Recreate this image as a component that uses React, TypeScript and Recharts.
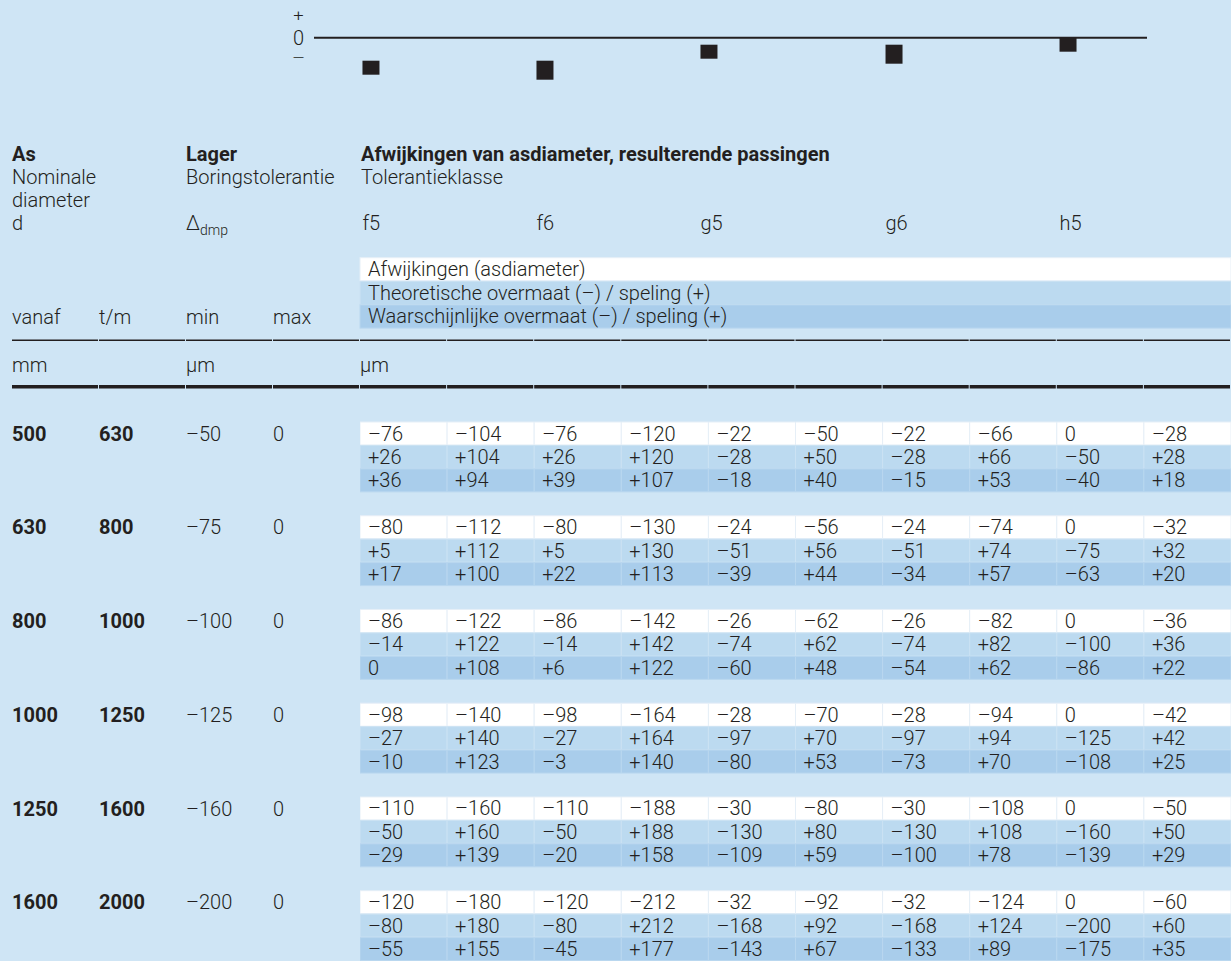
import React from "react";
import { BarChart, Bar, XAxis, YAxis, ReferenceLine, LabelList, Cell } from "recharts";

const BG = "#cfe5f5";
const ROW_FILL = ["#ffffff", "#bcdaf0", "#a9cdeb"];
const ROW_STROKE = ["#e6eff7", "#cbe2f3", "#b9d7ef"];
const INK = "#231f20";
const FONT = "Roboto, 'Noto Sans', 'DejaVu Sans', sans-serif";

// ---- schematic tolerance zones (top) ----
const classes = ["f5", "f6", "g5", "g6", "h5"];
const classPos = [0.125, 2.125, 4.01, 6.137, 8.137]; // position in table column units
const zoneTop = [-23, -23, -7, -7, 0];
const zoneBottom = [-37, -42, -21, -26, -14];
const signTicks = [22, 0, -20.5];
const signLabels = ["+", "0", "–"];

// ---- table ----
const fromD = [500, 630, 800, 1000, 1250, 1600];
const toD = [630, 800, 1000, 1250, 1600, 2000];
const dmpMin = [-50, -75, -100, -125, -160, -200];
const dmpMax = [0, 0, 0, 0, 0, 0];

const deviations = [
  [-76, -104, -76, -120, -22, -50, -22, -66, 0, -28],
  [-80, -112, -80, -130, -24, -56, -24, -74, 0, -32],
  [-86, -122, -86, -142, -26, -62, -26, -82, 0, -36],
  [-98, -140, -98, -164, -28, -70, -28, -94, 0, -42],
  [-110, -160, -110, -188, -30, -80, -30, -108, 0, -50],
  [-120, -180, -120, -212, -32, -92, -32, -124, 0, -60],
];
const theoretical = [
  [26, 104, 26, 120, -28, 50, -28, 66, -50, 28],
  [5, 112, 5, 130, -51, 56, -51, 74, -75, 32],
  [-14, 122, -14, 142, -74, 62, -74, 82, -100, 36],
  [-27, 140, -27, 164, -97, 70, -97, 94, -125, 42],
  [-50, 160, -50, 188, -130, 80, -130, 108, -160, 50],
  [-80, 180, -80, 212, -168, 92, -168, 124, -200, 60],
];
const probable = [
  [36, 94, 39, 107, -18, 40, -15, 53, -40, 18],
  [17, 100, 22, 113, -39, 44, -34, 57, -63, 20],
  [0, 108, 6, 122, -60, 48, -54, 62, -86, 22],
  [-10, 123, -3, 140, -80, 53, -73, 70, -108, 25],
  [-29, 139, -20, 158, -109, 59, -100, 78, -139, 29],
  [-55, 155, -45, 177, -143, 67, -133, 89, -175, 35],
];

const legendLabels = [
  "Afwijkingen (asdiameter)",
  "Theoretische overmaat (–) / speling (+)",
  "Waarschijnlijke overmaat (–) / speling (+)",
];

const fmt = (v: number) => (v < 0 ? "–" + Math.abs(v) : v > 0 ? "+" + v : "0");

const topData = classes.map((c, i) => ({ cls: c, pos: classPos[i], zone: [zoneBottom[i], zoneTop[i]] }));

const sources = [deviations, theoretical, probable];
const colIdx = deviations[0].map((_, i) => i);
const tableRows: any[] = [];
fromD.forEach((_, g) => {
  sources.forEach((src, r) => {
    const row: any = { key: `g${g}r${r}`, kind: r, group: g };
    src[g].forEach((v, i) => {
      row[`v${i}`] = v;
      row[`w${i}`] = 1;
    });
    tableRows.push(row);
  });
  if (g < fromD.length - 1) tableRows.push({ key: `gap${g}`, kind: -1, group: g });
});

const txt = (extra: any = {}) => ({
  fontFamily: FONT,
  fontSize: 20,
  fill: INK,
  fontWeight: 300,
  ...extra,
});

const signStyle = [
  { size: 16, dy: 5.4, sx: 1.15 },
  { size: 20, dy: 7.1, sx: 1 },
  { size: 14, dy: 4.6, sx: 1.45 },
];

const SignTick = (p: any) => {
  const k = signTicks.indexOf(p.payload.value);
  if (k < 0) return <g />;
  const s = signStyle[k];
  return (
    <text
      x={0}
      y={0}
      transform={`translate(298.5, ${p.y + s.dy}) scale(${s.sx}, 1)`}
      textAnchor="middle"
      {...txt({ fontSize: s.size })}
    >
      {signLabels[k]}
    </text>
  );
};

const ClassTick = (p: any) => (
  <text x={p.x - 9} y={229.5} textAnchor="start" {...txt()}>
    {classes[p.index]}
  </text>
);

const GroupTick = (p: any) => {
  const row = tableRows.find((r) => r.key === p.payload.value);
  if (!row || row.kind !== 0) return <g />;
  const g = row.group;
  const by = p.y + 7;
  return (
    <g>
      <text x={12} y={by} {...txt({ fontWeight: 700 })}>{fromD[g]}</text>
      <text x={99} y={by} {...txt({ fontWeight: 700 })}>{toD[g]}</text>
      <text x={186} y={by} {...txt()}>{fmt(dmpMin[g])}</text>
      <text x={273} y={by} {...txt()}>{fmt(dmpMax[g])}</text>
    </g>
  );
};

const renderCellLabel = (p: any) => {
  if (p.value === undefined || p.value === null) return null;
  const vb = p.viewBox || {};
  const x = p.x ?? vb.x;
  const y = p.y ?? vb.y;
  const h = p.height ?? vb.height;
  return (
    <text x={x + 8} y={y + h / 2 + 7} {...txt()}>
      {fmt(p.value)}
    </text>
  );
};

const TopChart = () => (
  <BarChart width={1231} height={240} data={topData} margin={{ top: 0, right: 84, bottom: 0, left: 284 }}>
    <XAxis
      type="number"
      dataKey="pos"
      domain={[-0.5356, 9.039]}
      allowDataOverflow
      ticks={classPos}
      interval={0}
      height={140}
      axisLine={false}
      tickLine={false}
      tick={ClassTick}
    />
    <YAxis
      type="number"
      domain={[-62.3, 37.7]}
      allowDataOverflow
      ticks={signTicks}
      interval={0}
      width={30}
      axisLine={false}
      tickLine={false}
      tick={SignTick}
    />
    <ReferenceLine y={0} stroke={INK} strokeWidth={2} />
    <Bar dataKey="zone" fill={INK} barSize={17} isAnimationActive={false} />
  </BarChart>
);

const TableChart = () => (
  <BarChart
    layout="vertical"
    width={1231}
    height={961}
    data={tableRows}
    margin={{ top: 422, right: 0, bottom: 0, left: 0 }}
    barCategoryGap={0}
    barGap={0}
  >
    <XAxis type="number" domain={[0, 10]} allowDataOverflow hide />
    <YAxis type="category" dataKey="key" width={360} axisLine={false} tickLine={false} interval={0} tick={GroupTick} />
    {colIdx.map((i) => (
      <Bar key={i} dataKey={`w${i}`} stackId="cells" isAnimationActive={false}>
        {tableRows.map((r, j) => (
          <Cell
            key={j}
            fill={r.kind >= 0 ? ROW_FILL[r.kind] : "transparent"}
            stroke={r.kind >= 0 ? ROW_STROKE[r.kind] : "none"}
            strokeWidth={1}
          />
        ))}
        <LabelList dataKey={`v${i}`} content={renderCellLabel} />
      </Bar>
    ))}
  </BarChart>
);

const leftBounds = [12, 99, 186, 273, 360];
const bounds = [...leftBounds, ...colIdx.map((i) => 360 + 87.1 * (i + 1))];

const Rule = ({ y, h }: { y: number; h: number }) => (
  <g>
    {bounds.slice(0, -1).map((b, k) => (
      <rect key={k} x={b} y={y} width={bounds[k + 1] - b - 1} height={h} fill={INK} />
    ))}
  </g>
);

const HeaderLayer = () => (
  <svg width={1231} height={400} style={{ position: "absolute", left: 0, top: 0 }}>
    <text x={12} y={160.5} {...txt({ fontWeight: 700 })}>As</text>
    <text x={186} y={160.5} {...txt({ fontWeight: 700 })}>Lager</text>
    <text x={361} y={160.5} {...txt({ fontWeight: 700 })}>Afwijkingen van asdiameter, resulterende passingen</text>
    <text x={12} y={183.5} {...txt()}>Nominale</text>
    <text x={186} y={183.5} {...txt()}>Boringstolerantie</text>
    <text x={361} y={183.5} {...txt()}>Tolerantieklasse</text>
    <text x={12} y={206.5} {...txt()}>diameter</text>
    <text x={12} y={229.5} {...txt()}>d</text>
    <text x={186} y={229.5} {...txt()}>
      Δ<tspan fontSize={14} dy={5}>dmp</tspan>
    </text>
    {legendLabels.map((l, r) => (
      <g key={r}>
        <rect x={360} y={257.7 + 23.6 * r} width={871} height={23.2} fill={ROW_FILL[r]} stroke={ROW_STROKE[r]} strokeWidth={1} />
        <text x={368} y={276.4 + 23.5 * r} {...txt()}>{l}</text>
      </g>
    ))}
    <text x={12} y={324.3} {...txt()}>vanaf</text>
    <text x={99} y={324.3} {...txt()}>t/m</text>
    <text x={186} y={324.3} {...txt()}>min</text>
    <text x={273} y={324.3} {...txt()}>max</text>
    <Rule y={339.5} h={1.5} />
    <text x={12} y={371.7} {...txt()}>mm</text>
    <text x={186} y={371.7} {...txt()}>µm</text>
    <text x={360} y={371.7} {...txt()}>µm</text>
    <Rule y={385} h={3.5} />
  </svg>
);

export default function App() {
  return (
    <div
      style={{
        position: "absolute",
        left: 0,
        top: 0,
        width: 1231,
        height: 961,
        background: BG,
        overflow: "hidden",
        fontFamily: FONT,
      }}
    >
      <HeaderLayer />
      <div style={{ position: "absolute", left: 0, top: 0 }}>
        <TopChart />
      </div>
      <div style={{ position: "absolute", left: 0, top: 0 }}>
        <TableChart />
      </div>
    </div>
  );
}
